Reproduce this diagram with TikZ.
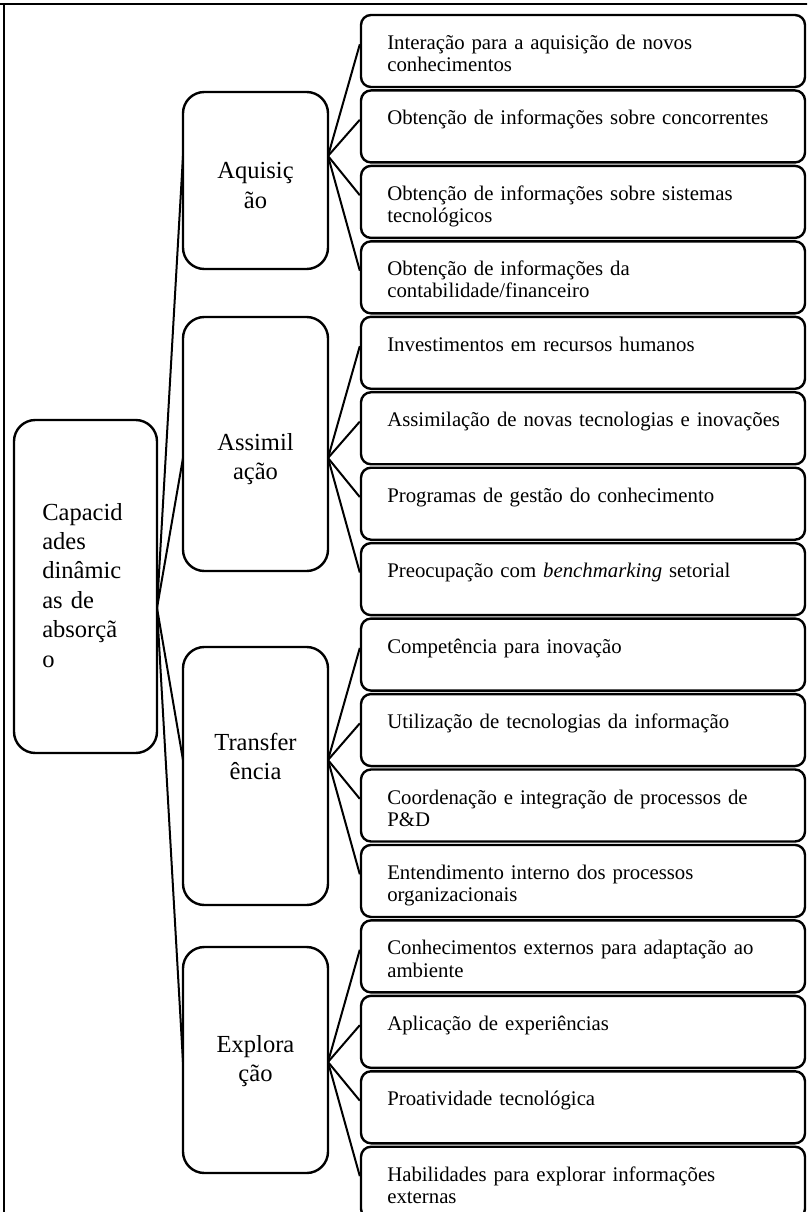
\documentclass[tikz,border=0pt]{standalone}
\usepackage{fontspec}
\setmainfont{Liberation Serif}
\usetikzlibrary{fit}
\begin{document}
\begin{tikzpicture}[x=0.75pt,y=-0.75pt,
  frameline/.style={line width=2.2pt},
  link/.style={line width=1.5pt},
  box/.style={draw, line width=1.8pt, fill=white, inner sep=0pt, rounded corners=#1},
  box/.default=7.5pt,
  leaftext/.style={anchor=base west, inner sep=0pt, text width=310pt, align=left,
    font=\fontsize{15.6}{16.6}\selectfont},
  bigtext/.style={inner sep=0pt, text width=100pt,
    font=\fontsize{18.4}{22.1}\selectfont},
  midtext/.style={bigtext, anchor=base, align=center},
  roottext/.style={bigtext, anchor=base west, align=left}]
\useasboundingbox (0,0) rectangle (807,1212);
\clip (0,0) rectangle (807,1212);

% outer frame (only top and left edges fall inside the page)
\draw[frameline] (0,4) -- (820,4);
\draw[frameline] (4,4) -- (4,1230);

% connection points
\coordinate (rootR) at (157,608);
\coordinate (aqL) at (183,156);  \coordinate (aqR) at (328,156);
\coordinate (asL) at (183,458);  \coordinate (asR) at (328,458);
\coordinate (trL) at (183,760);  \coordinate (trR) at (328,760);
\coordinate (exL) at (183,1062); \coordinate (exR) at (328,1062);

% sixteen leaf boxes at a regular pitch, with their labels
\foreach \i/\txt in {
  1/{Interação para a aquisição de novos\\conhecimentos},
  2/{Obtenção de informações sobre concorrentes},
  3/{Obtenção de informações sobre sistemas\\tecnológicos},
  4/{Obtenção de informações da\\contabilidade/financeiro},
  5/{Investimentos em recursos humanos},
  6/{Assimilação de novas tecnologias e inovações},
  7/{Programas de gestão do conhecimento},
  8/{Preocupação com \textit{benchmarking} setorial},
  9/{Competência para inovação},
  10/{Utilização de tecnologias da informação},
  11/{Coordenação e integração de processos de\\P\&D},
  12/{Entendimento interno dos processos\\organizacionais},
  13/{Conhecimentos externos para adaptação ao\\ambiente},
  14/{Aplicação de experiências},
  15/{Proatividade tecnológica},
  16/{Habilidades para explorar informações\\externas}} {
  \pgfmathsetmacro{\top}{15+75.45*(\i-1)}
  \node[box, fit={(361,\top) (805,\top+72)}] (l\i) {};
  \node[leaftext] (t\i) at (387,\top+34.5) {\txt};
}

% connectors (drawn under the main boxes)
\foreach \s/\t in {rootR/aqL, rootR/asL, rootR/trL, rootR/exL}
  \draw[link] (\s) -- (\t);
\foreach \s/\t in {aqR/l1, aqR/l2, aqR/l3, aqR/l4,
  asR/l5, asR/l6, asR/l7, asR/l8,
  trR/l9, trR/l10, trR/l11, trR/l12,
  exR/l13, exR/l14, exR/l15, exR/l16}
  \draw[link] (\s) -- ([yshift=5pt]\t.west);

% root and second-level boxes
\node[box=16pt, fit={(14,420) (157,753)}] (root) {};
\node[box=16pt, fit={(183,92) (328,269)}] (aq) {};
\node[box=16pt, fit={(183,317) (328,571)}] (as) {};
\node[box=16pt, fit={(183,647) (328,905)}] (tr) {};
\node[box=16pt, fit={(183,947) (328,1173)}] (ex) {};

% texts of the root and second-level boxes
\node[roottext] (rootT) at (42,520) {Capacid\\ades\\dinâmic\\as de\\absorçã\\o};
\node[midtext] (aqT) at (255.5,179) {Aquisiç\\ão};
\node[midtext] (asT) at (255.5,450) {Assimil\\ação};
\node[midtext] (trT) at (255.5,750) {Transfer\\ência};
\node[midtext] (exT) at (255.5,1052) {Explora\\ção};
\end{tikzpicture}
\end{document}
